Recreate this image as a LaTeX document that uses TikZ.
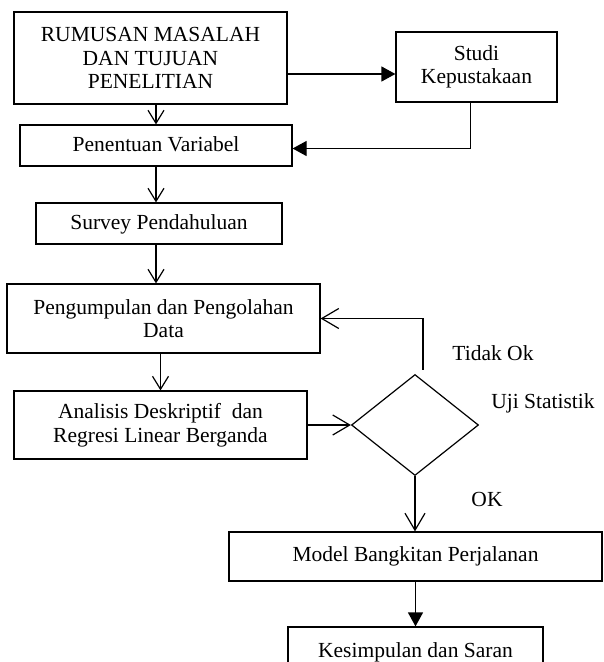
\documentclass[tikz,border=0pt]{standalone}
\usepackage{fontspec}
\setmainfont{Liberation Serif}
\usetikzlibrary{arrows.meta,shapes.geometric,calc}
\tikzset{
  box/.style={draw, line width=1.2pt, inner sep=0pt, align=center, font=\fontsize{21.5}{23.5}\selectfont},
  lbl/.style={inner sep=0pt, font=\fontsize{21.5}{23.5}\selectfont},
  conn/.style={line width=1.2pt},
  openhead/.style={conn, -{Straight Barb[length=13pt,width=16pt,line width=1.2pt]}},
  bigopen/.style={conn, -{Straight Barb[length=17pt,width=20pt,line width=1.2pt]}},
  fillhead/.style={conn, -{Triangle[length=14pt,width=15pt]}}
}
\begin{document}
\begin{tikzpicture}[x=1pt,y=-1pt]
\useasboundingbox (0,0) rectangle (604,662);
\node[box, minimum width=273pt, minimum height=92pt] (rum) at (150.5,58) {RUMUSAN MASALAH\\DAN TUJUAN\\PENELITIAN};
\node[box, minimum width=161pt, minimum height=70pt] (stu) at (476.5,67) {Studi\\Kepustakaan};
\node[box, minimum width=272pt, minimum height=41pt, text depth=2pt] (pen) at (156,145.5) {Penentuan Variabel};
\node[box, minimum width=246pt, minimum height=41pt, text depth=2pt] (sur) at (159,223.5) {Survey Pendahuluan};
\node[box, minimum width=313pt, minimum height=69pt] (peng) at (163.5,318.5) {Pengumpulan dan Pengolahan\\Data};
\node[box, minimum width=293pt, minimum height=68pt] (ana) at (160.5,425) {Analisis Deskriptif~ dan\\Regresi Linear Berganda};
\node[draw, line width=1.2pt, shape=diamond, inner sep=0pt, minimum width=127pt, minimum height=101pt] (dia) at (415,425) {};
\node[box, minimum width=373pt, minimum height=49pt] (mod) at (415.5,556.5) {Model Bangkitan Perjalanan};
\node[box, minimum width=255pt, minimum height=51pt] (kes) at (415.5,652.5) {Kesimpulan dan Saran};
\node[lbl] (tidak) at (493,353) {Tidak Ok};
\node[lbl] (uji) at (543,403) {Uji Statistik};
\node[lbl] (ok) at (487,499) {OK};
% connectors
\draw[openhead] (pen.north |- rum.south) -- (pen.north);
\draw[fillhead] ([yshift=-16pt]rum.east) -- ([yshift=-16pt]rum.east -| stu.west);
\draw[fillhead] ([xshift=-6pt]stu.south) |- ([yshift=-3pt]pen.east);
\draw[openhead] (pen.south) -- (pen.south |- sur.north);
\draw[openhead] (pen.south |- sur.south) -- (pen.south |- peng.north);
\draw[openhead] (ana.north |- peng.south) -- (ana.north);
\draw[bigopen] (ana.east) -- (dia.west);
\draw[bigopen] ([xshift=8pt,yshift=4pt]dia.north) |- (peng.east);
\draw[bigopen] (dia.south) -- (dia.south |- mod.north);
\draw[fillhead] (mod.south) -- (kes.north);
\end{tikzpicture}
\end{document}
